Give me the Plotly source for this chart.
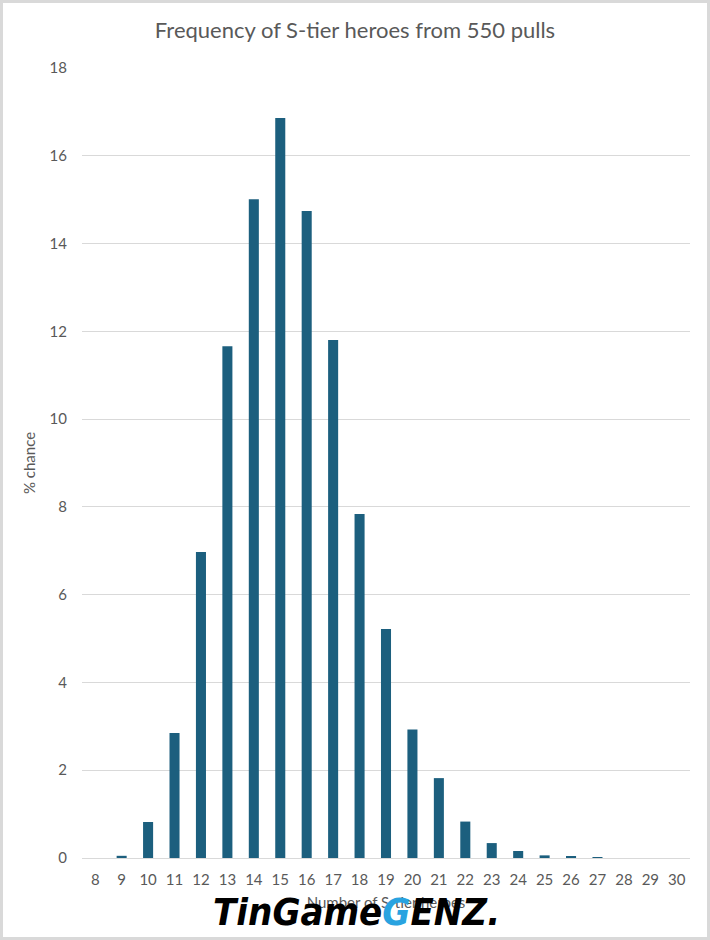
import plotly.graph_objects as go

categories = [str(i) for i in range(8, 31)]
pct_chance = [0.0, 0.05, 0.82, 2.85, 6.97, 11.66, 15.01, 16.86, 14.74, 11.8, 7.84,
              5.22, 2.93, 1.82, 0.83, 0.34, 0.16, 0.06, 0.04, 0.01, 0.0, 0.0, 0.0]
y_ticks = [0, 2, 4, 6, 8, 10, 12, 14, 16, 18]

W, H = 710, 940
L, R, T, B = 82, 20, 68, 82
pw, ph = W - L - R, H - T - B

def px_x(px):
    return (px - L) / pw

def px_y(py):
    return (H - B - py) / ph

fig = go.Figure()
fig.add_trace(go.Bar(x=categories, y=pct_chance, marker_color="#1c5f7e",
                     marker_line_width=0, hoverinfo="x+y"))

fig.update_layout(
    width=W, height=H,
    margin=dict(l=L, r=R, t=T, b=B),
    paper_bgcolor="white", plot_bgcolor="white",
    font=dict(family="Lato, Open Sans, sans-serif", color="#595959"),
    title=dict(text="Frequency of S-tier heroes from 550 pulls",
               x=0.5, xanchor="center", y=1 - 30 / H, yanchor="middle",
               font=dict(size=22, color="#595959")),
    bargap=0.62,
    showlegend=False,
    xaxis=dict(type="category", showgrid=False, showline=True, linecolor="#d9d9d9",
               linewidth=1, ticks="", tickfont=dict(size=15, color="#595959"),
               ticklabelstandoff=8,
               title=dict(text="Number of S-tier heroes", font=dict(size=15, color="#595959"),
                          standoff=10)),
    yaxis=dict(range=[0, 18], tickvals=y_ticks, showgrid=True, gridcolor="#d9d9d9",
               gridwidth=1, zeroline=False, showline=False, ticks="",
               tickfont=dict(size=15, color="#595959"), ticklabelstandoff=14,
               title=dict(text="% chance", font=dict(size=15, color="#595959"), standoff=10)),
)

# outer frame
fig.add_shape(type="rect", xref="paper", yref="paper",
              x0=px_x(1.5), x1=px_x(W - 1.5), y0=px_y(H - 1.5), y1=px_y(1.5),
              line=dict(color="#d9d9d9", width=3), layer="below")

# watermark
fig.add_annotation(xref="paper", yref="paper", x=px_x(356), y=px_y(912),
                   xanchor="center", yanchor="middle", showarrow=False,
                   text="<b><i>TinGame<span style='color:#29a3e0'>G</span>ENZ.</i></b>",
                   font=dict(family="DejaVu Sans Condensed, Liberation Sans Narrow, sans-serif",
                             size=38, color="black"))

fig.write_html("out.html", config={"displayModeBar": False},
               post_script="document.body.style.margin='0';")
